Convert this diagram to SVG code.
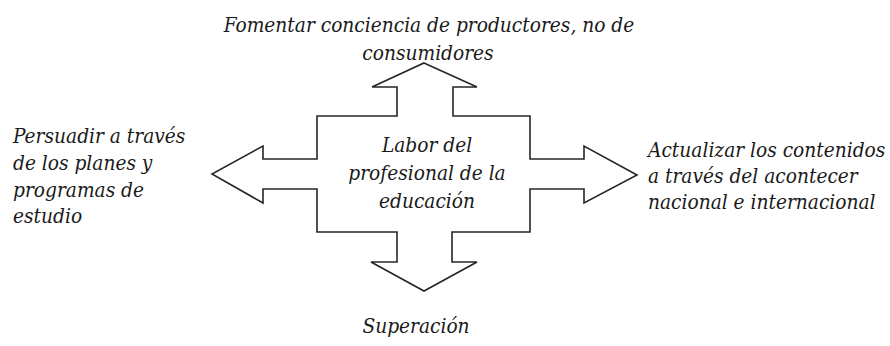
<svg xmlns="http://www.w3.org/2000/svg" width="890" height="346" viewBox="0 0 890 346">
<style>
.t{font-family:"DejaVu Serif Condensed","DejaVu Serif","Liberation Serif",serif;font-stretch:condensed;font-style:italic;font-size:20.7px;fill:#1a1a1a}
.m{text-anchor:middle}
.shape{fill:#fff;stroke:#262626;stroke-width:1.6;stroke-linejoin:miter}
</style>
<rect width="890" height="346" fill="#fff"/>
<g id="cross-arrow">
<polygon class="shape" points="424,63 477,87 453,87 453,116 530,116 530,159 584,159 584,146 637,175 584,203 584,189 530,189 530,232 452,232 452,262 477,262 424,291 371,262 397,262 397,232 317,232 317,189 263,189 263,203 212,174 263,146 263,159 317,159 317,116 397,116 397,87 372,87"/>
</g>
<g id="center">
<text class="t m" x="427" y="152">Labor del</text>
<text class="t m" x="427" y="180">profesional de la</text>
<text class="t m" x="427" y="208">educación</text>
</g>
<g id="top">
<text class="t m" x="429" y="32">Fomentar conciencia de productores, no de</text>
<text class="t m" x="428" y="60">consumidores</text>
</g>
<g id="left">
<text class="t" x="13" y="143">Persuadir a través</text>
<text class="t" x="13" y="170">de los planes y</text>
<text class="t" x="13" y="196.5">programas de</text>
<text class="t" x="13" y="223">estudio</text>
</g>
<g id="right">
<text class="t" x="648" y="157">Actualizar los contenidos</text>
<text class="t" x="648" y="183">a través del acontecer</text>
<text class="t" x="648" y="209">nacional e internacional</text>
</g>
<g id="bottom">
<text class="t m" x="416" y="333">Superación</text>
</g>
</svg>
